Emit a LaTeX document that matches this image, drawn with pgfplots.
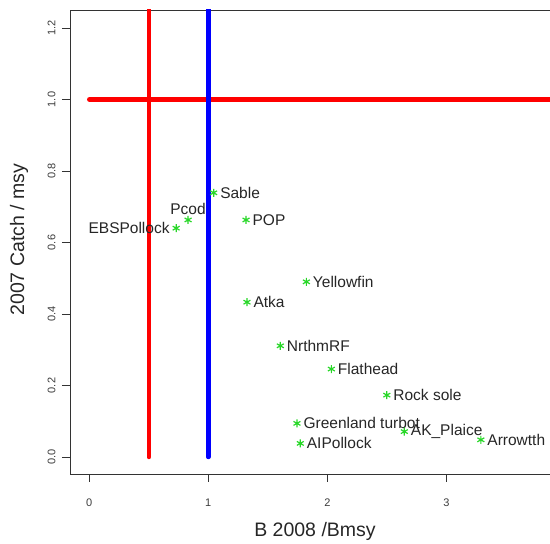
\documentclass[border=0pt]{standalone}
\usepackage{pgfplots}
\pgfplotsset{compat=1.18}
\usepackage{fontspec}
\setmainfont{Liberation Sans}
\definecolor{ptgreen}{RGB}{40,215,40}
\definecolor{ticktext}{RGB}{60,60,60}
\begin{document}
\begin{tikzpicture}
\begin{axis}[
  at={(70bp,70bp)}, anchor=south west,
  scale only axis, width=490bp, height=464bp,
  xmin=-0.162, xmax=3.955, ymin=-0.0476, ymax=1.2503,
  axis line style={black!80, line width=0.9bp},
  xtick={0,1,2,3}, ytick={0,0.2,0.4,0.6,0.8,1.0,1.2},
  xtick pos=lower, ytick pos=left,
  tick align=outside, major tick length=8bp,
  tick style={black!80, line width=0.9bp},
  /pgf/number format/assume math mode=true,
  tick label style={font=\fontsize{11bp}{13bp}\selectfont, text=ticktext},
  yticklabel style={xshift=-3bp, rotate=90, anchor=south, /pgf/number format/.cd, fixed, fixed zerofill, precision=1},
  xticklabel style={yshift=-13bp},
  xlabel={B 2008 /Bmsy},
  ylabel={2007 Catch / msy},
  label style={font=\fontsize{19.5bp}{22bp}\selectfont, text=black!85},
  xlabel style={at={(axis description cs:0.5,-0.123)}, anchor=center},
  ylabel style={at={(axis description cs:-0.1041,0.505)}, anchor=center},
  clip=true,
]
\addplot[red, line width=4.5bp, line cap=round] coordinates {(0.5,0) (0.5,1.40)};
\addplot[red, line width=4.5bp, line cap=round] coordinates {(0,1) (4.5,1)};
\addplot[blue, line width=4.5bp, line cap=round] coordinates {(1,0) (1,1.40)};
% labels to the right
\addplot[only marks, mark=asterisk, mark size=4bp, ptgreen, line width=1.2bp,
  point meta=explicit symbolic, nodes near coords,
  nodes near coords style={anchor=west, inner sep=0pt, xshift=6bp, text=black!85, font=\fontsize{15.5bp}{18bp}\selectfont}]
  coordinates {
  (1.045,0.739) [Sable]
  (1.317,0.663) [POP]
  (1.824,0.490) [Yellowfin]
  (1.325,0.433) [Atka]
  (1.605,0.311) [NrthmRF]
  (2.034,0.246) [Flathead]
  (2.500,0.173) [Rock sole]
  (1.745,0.094) [Greenland turbot]
  (1.773,0.038) [AIPollock]
  (2.647,0.071) [AK\_Plaice]
  (3.290,0.048) [Arrowtth]
  };
% label to the left
\addplot[only marks, mark=asterisk, mark size=4bp, ptgreen, line width=1.2bp,
  point meta=explicit symbolic, nodes near coords,
  nodes near coords style={anchor=east, inner sep=0pt, xshift=-6bp, text=black!85, font=\fontsize{15.5bp}{18bp}\selectfont}]
  coordinates {(0.730,0.640) [EBSPollock]};
% label above
\addplot[only marks, mark=asterisk, mark size=4bp, ptgreen, line width=1.2bp,
  point meta=explicit symbolic, nodes near coords,
  nodes near coords style={anchor=south, inner sep=0pt, yshift=5bp, text=black!85, font=\fontsize{15.5bp}{18bp}\selectfont}]
  coordinates {(0.830,0.663) [Pcod]};
\end{axis}
\pgfresetboundingbox
\path[use as bounding box] (0,0) rectangle (550bp,544bp);
\end{tikzpicture}
\end{document}
